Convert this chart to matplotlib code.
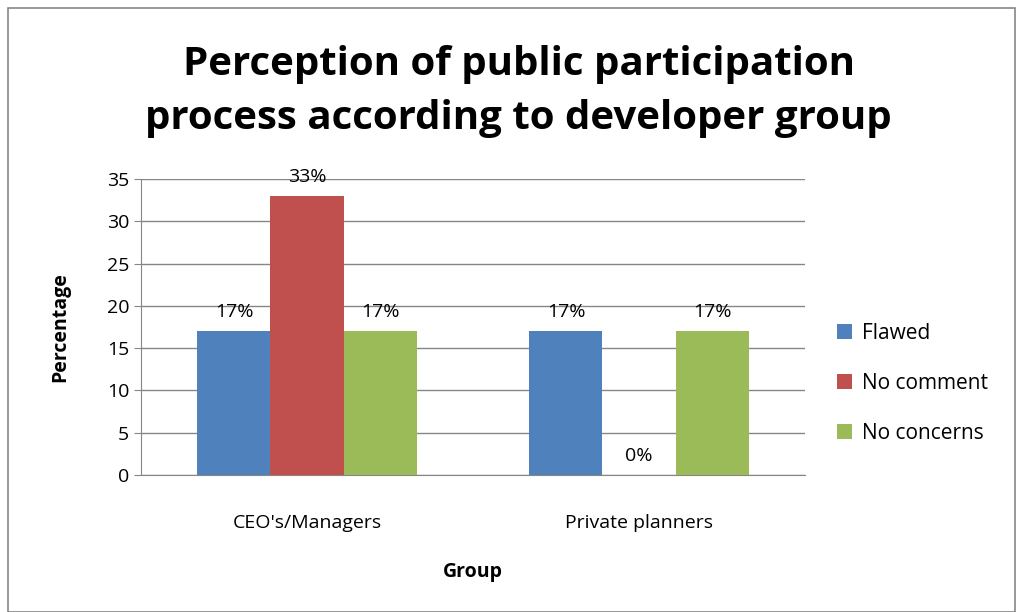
import matplotlib.pyplot as plt
import numpy as np
from matplotlib.patches import Rectangle

groups = ["CEO's/Managers", "Private planners"]
series = ["Flawed", "No comment", "No concerns"]
flawed = [17, 17]
no_comment = [33, 0]
no_concerns = [17, 17]
colors = ['#4F81BD', '#C0504D', '#9BBB59']

plt.rcParams['font.family'] = ['Open Sans', 'DejaVu Sans']

fig = plt.figure(figsize=(10.23, 6.12), dpi=100)
# outer chart border
fig.patches.append(Rectangle((0.008, 0.0), 0.984, 0.987, transform=fig.transFigure,
                             fill=False, edgecolor='#868686', linewidth=1.2))

ax = fig.add_axes([141 / 1023, 1 - 475 / 612, 664 / 1023, 296 / 612])

x = np.arange(len(groups))
width = 0.22
for i, (name, vals) in enumerate(zip(series, [flawed, no_comment, no_concerns])):
    pos = x + (i - 1) * width
    ax.bar(pos, vals, width, color=colors[i], label=name, zorder=3)
    for p, v in zip(pos, vals):
        ax.text(p, v + 1.2, f'{v}%', ha='center', va='bottom', fontsize=14, color='#000000')

ax.set_xlim(-0.5, 1.5)
ax.set_ylim(0, 35)
ax.set_yticks(range(0, 36, 5))
ax.yaxis.grid(True, color='#868686', linewidth=1, zorder=0)
ax.set_xticks(x)
ax.set_xticklabels(groups, fontsize=14)
ax.tick_params(axis='y', labelsize=14, length=5, color='#868686')
ax.tick_params(axis='x', length=0, pad=28)
for side in ['top', 'right']:
    ax.spines[side].set_visible(False)
ax.spines['left'].set_color('#868686')
ax.spines['bottom'].set_color('#868686')

ax.set_ylabel('Percentage', fontsize=14, fontweight='bold', labelpad=26)
ax.set_xlabel('Group', fontsize=14, fontweight='bold', labelpad=22)

fig.text(0.507, 0.851, 'Perception of public participation\nprocess according to developer group',
         ha='center', va='center', fontsize=29, fontweight='bold', linespacing=1.5)

ax.legend(loc='center left', bbox_to_anchor=(1.02, 0.31), frameon=False, fontsize=15,
          handlelength=0.7, handleheight=0.7, labelspacing=1.4, handletextpad=0.5)

fig.savefig('out.png', dpi=100)
